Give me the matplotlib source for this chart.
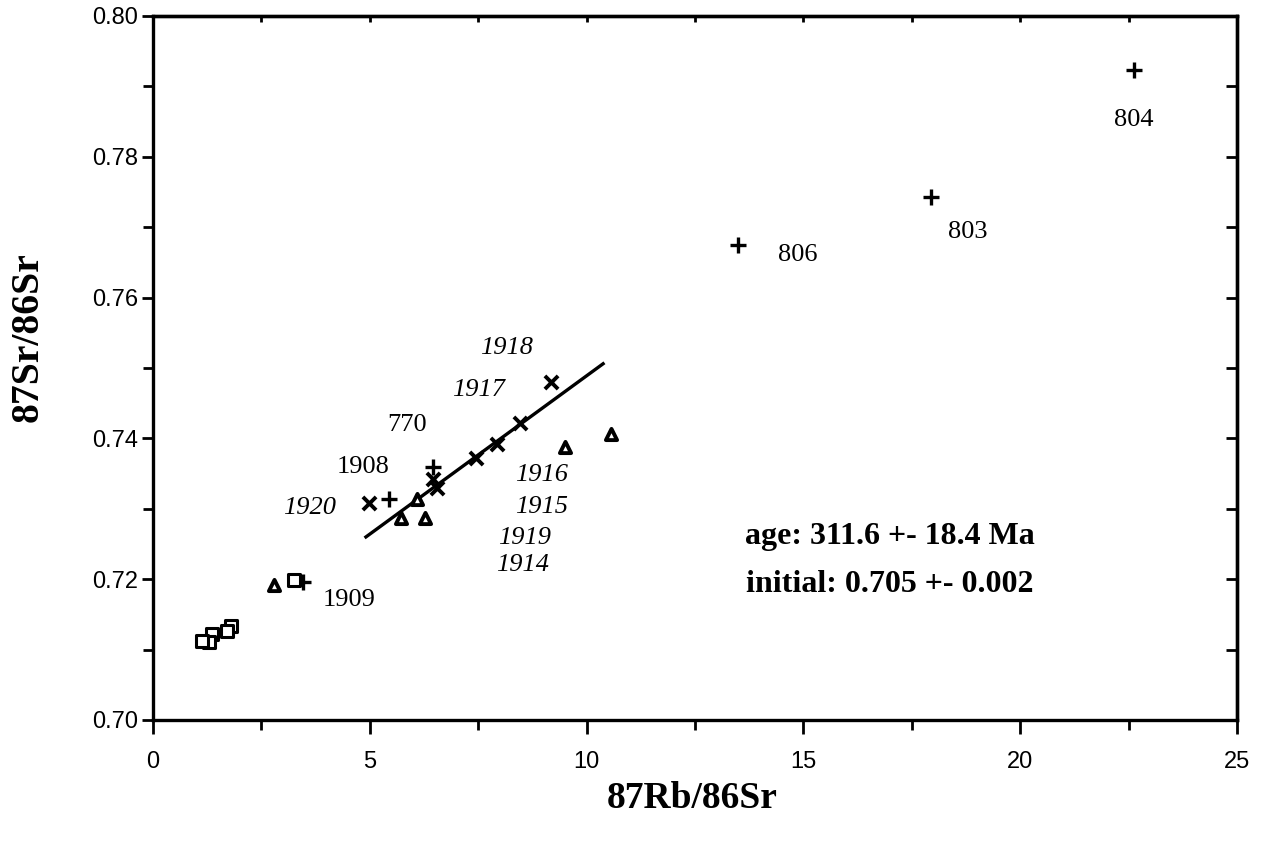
import matplotlib.pyplot as plt
from matplotlib.ticker import MultipleLocator

# Rb-Sr isochron data
plus_x = [22.62, 17.94, 13.49, 6.46, 5.44, 3.46]
plus_y = [0.7923, 0.7743, 0.7675, 0.7359, 0.7314, 0.7196]

cross_x = [9.18, 8.46, 7.93, 7.45, 6.45, 6.55, 4.98]
cross_y = [0.7480, 0.7422, 0.7392, 0.7372, 0.7343, 0.7330, 0.7308]

tri_x = [6.09, 5.72, 6.27, 9.50, 10.56, 2.79]
tri_y = [0.7314, 0.7287, 0.7287, 0.7388, 0.7406, 0.7192]

sq_x = [3.25, 1.80, 1.70, 1.35, 1.28, 1.13]
sq_y = [0.7199, 0.7134, 0.7126, 0.7122, 0.7111, 0.7112]

fit_x = [4.91, 10.38]
fit_y = [0.7260, 0.7506]

labels = ["804", "803", "806", "1918", "1917", "770", "1908", "1920",
          "1916", "1915", "1919", "1914", "1909"]
label_x = [22.62, 18.8, 14.88, 8.16, 7.5, 5.86, 4.85, 3.6,
           8.97, 8.95, 8.58, 8.53, 4.52]
label_y = [0.7852, 0.7693, 0.7660, 0.7528, 0.7469, 0.7419, 0.7359, 0.7301,
           0.7348, 0.7303, 0.7259, 0.7220, 0.7170]
label_italic = [False, False, False, True, True, False, False, True,
                True, True, True, True, False]

age_text = "age: 311.6 +- 18.4 Ma"
init_text = "initial: 0.705 +- 0.002"

serif = "Liberation Serif"
sans = "Liberation Sans"

fig = plt.figure(figsize=(12.67, 8.41), dpi=100)
ax = fig.add_axes([0.1208, 0.1439, 0.8555, 0.8371])

ax.plot(fit_x, fit_y, color="black", lw=2.4, zorder=2)
ax.scatter(plus_x, plus_y, marker="+", s=130, color="black", linewidths=2.4, zorder=3)
ax.scatter(cross_x, cross_y, marker="x", s=90, color="black", linewidths=2.8, zorder=3)
ax.scatter(tri_x, tri_y, marker="^", s=65, facecolor="white", edgecolor="black",
           linewidths=2.8, zorder=4)
ax.scatter(sq_x, sq_y, marker="s", s=85, facecolor="white", edgecolor="black",
           linewidths=2.2, zorder=4)

for t, x, y, it in zip(labels, label_x, label_y, label_italic):
    ax.text(x, y, t, ha="center", va="center", fontsize=19, family=serif,
            style="italic" if it else "normal")

ax.text(17.0, 0.7260, age_text, ha="center", va="center", fontsize=23,
        family=serif, weight="bold")
ax.text(17.0, 0.7192, init_text, ha="center", va="center", fontsize=23,
        family=serif, weight="bold")

ax.set_xlim(0, 25)
ax.set_ylim(0.70, 0.80)
ax.xaxis.set_major_locator(MultipleLocator(5))
ax.xaxis.set_minor_locator(MultipleLocator(2.5))
ax.yaxis.set_major_locator(MultipleLocator(0.02))
ax.yaxis.set_minor_locator(MultipleLocator(0.01))
ax.yaxis.set_major_formatter(lambda v, p: f"{v:.2f}")

for s in ax.spines.values():
    s.set_linewidth(2.4)

ax.tick_params(which="both", direction="out", width=2, labelsize=17)
ax.tick_params(axis="y", which="major", length=8, pad=3)
ax.tick_params(axis="y", which="minor", length=7)
ax.tick_params(axis="x", which="major", length=10, pad=12)
ax.tick_params(axis="x", which="minor", length=7)
for lab in ax.get_xticklabels() + ax.get_yticklabels():
    lab.set_family(sans)

# inward ticks on the top and right frame
top = ax.secondary_xaxis("top")
top.xaxis.set_major_locator(MultipleLocator(2.5))
top.tick_params(direction="in", length=4, width=2, labeltop=False)
right = ax.secondary_yaxis("right")
right.yaxis.set_major_locator(MultipleLocator(0.01))
right.tick_params(direction="in", length=8, width=2, labelright=False)
top.spines["top"].set_linewidth(2.4)
right.spines["right"].set_linewidth(2.4)

ax.set_xlabel("87Rb/86Sr", family=serif, weight="bold", fontsize=27)
ax.set_ylabel("87Sr/86Sr", family=serif, weight="bold", fontsize=28.5)
ax.xaxis.set_label_coords(0.497, -0.087)
ax.yaxis.set_label_coords(-0.0985, 0.544)

fig.savefig("out.png", dpi=100)
